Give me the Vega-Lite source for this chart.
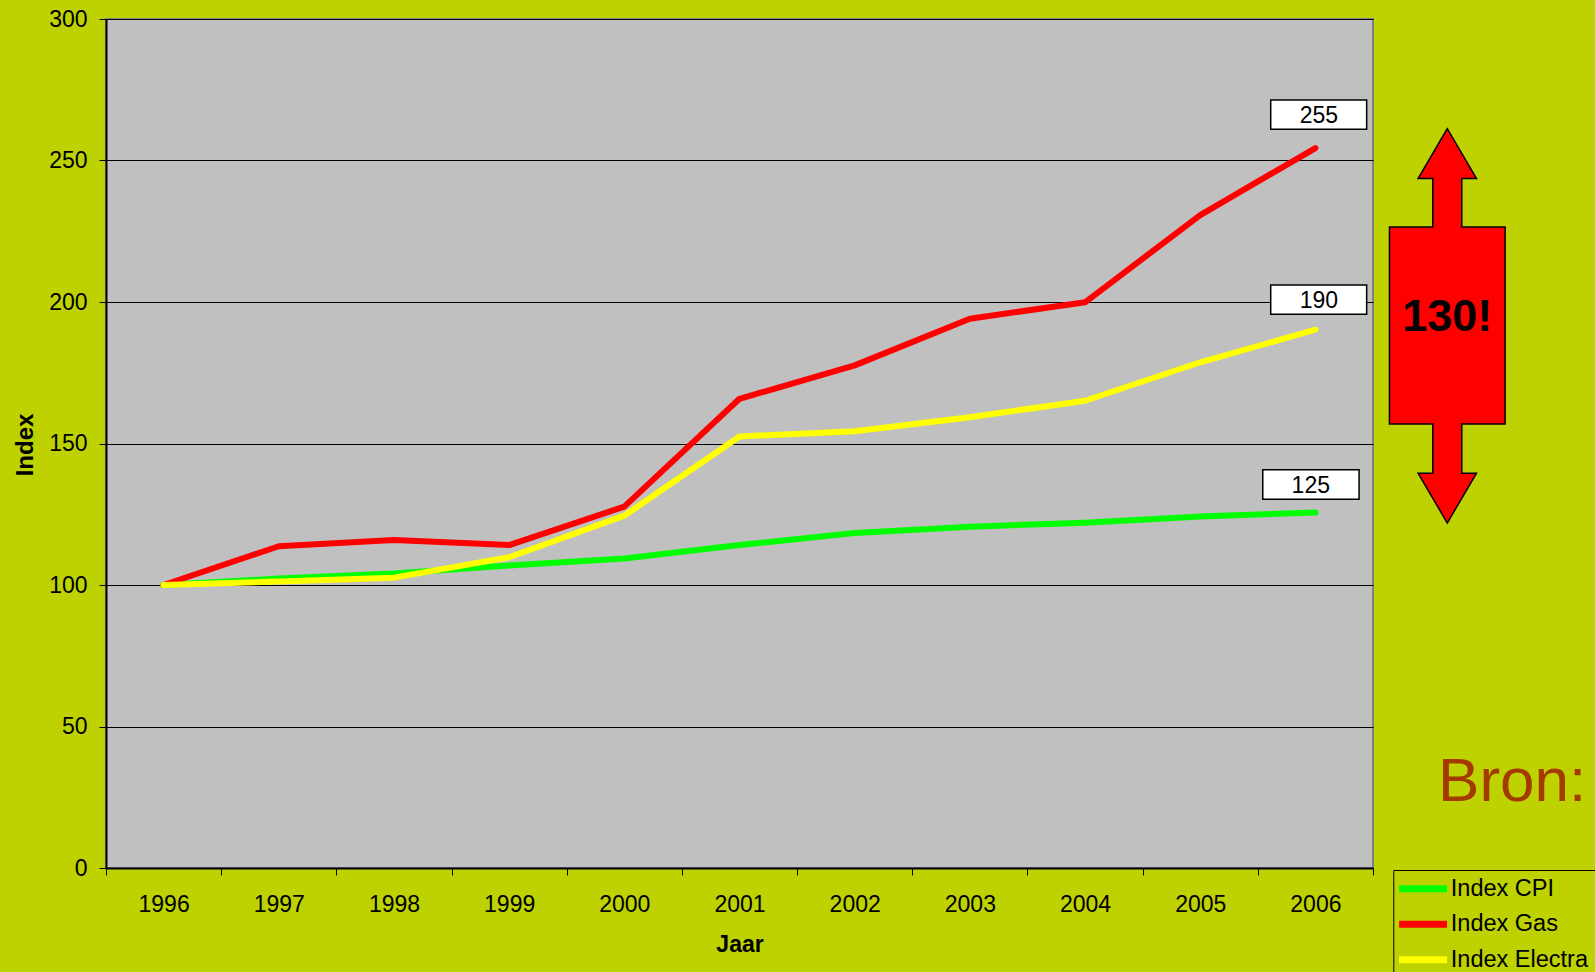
{
  "$schema": "https://vega.github.io/schema/vega-lite/v6.json",
  "width": 1267,
  "height": 849,
  "autosize": {"type": "none"},
  "padding": {"left": 106, "top": 19, "right": 222, "bottom": 104},
  "background": "#BDD200",
  "config": {
    "font": "Liberation Sans",
    "view": {"fill": "#C0C0C0", "stroke": "#808080", "strokeWidth": 2}
  },
  "datasets": {
    "series": [
      {"Jaar": "1996", "Reeks": "Index CPI", "Index": 100},
      {"Jaar": "1997", "Reeks": "Index CPI", "Index": 102.3},
      {"Jaar": "1998", "Reeks": "Index CPI", "Index": 104.1},
      {"Jaar": "1999", "Reeks": "Index CPI", "Index": 106.9},
      {"Jaar": "2000", "Reeks": "Index CPI", "Index": 109.4},
      {"Jaar": "2001", "Reeks": "Index CPI", "Index": 114.1},
      {"Jaar": "2002", "Reeks": "Index CPI", "Index": 118.4},
      {"Jaar": "2003", "Reeks": "Index CPI", "Index": 120.6},
      {"Jaar": "2004", "Reeks": "Index CPI", "Index": 122.0},
      {"Jaar": "2005", "Reeks": "Index CPI", "Index": 124.2},
      {"Jaar": "2006", "Reeks": "Index CPI", "Index": 125.6},
      {"Jaar": "1996", "Reeks": "Index Gas", "Index": 100},
      {"Jaar": "1997", "Reeks": "Index Gas", "Index": 113.7},
      {"Jaar": "1998", "Reeks": "Index Gas", "Index": 115.9},
      {"Jaar": "1999", "Reeks": "Index Gas", "Index": 114.1},
      {"Jaar": "2000", "Reeks": "Index Gas", "Index": 127.7},
      {"Jaar": "2001", "Reeks": "Index Gas", "Index": 165.8},
      {"Jaar": "2002", "Reeks": "Index Gas", "Index": 177.6},
      {"Jaar": "2003", "Reeks": "Index Gas", "Index": 194.1},
      {"Jaar": "2004", "Reeks": "Index Gas", "Index": 199.9},
      {"Jaar": "2005", "Reeks": "Index Gas", "Index": 230.7},
      {"Jaar": "2006", "Reeks": "Index Gas", "Index": 254.4},
      {"Jaar": "1996", "Reeks": "Index Electra", "Index": 100},
      {"Jaar": "1997", "Reeks": "Index Electra", "Index": 101.2},
      {"Jaar": "1998", "Reeks": "Index Electra", "Index": 102.6},
      {"Jaar": "1999", "Reeks": "Index Electra", "Index": 109.8},
      {"Jaar": "2000", "Reeks": "Index Electra", "Index": 124.5},
      {"Jaar": "2001", "Reeks": "Index Electra", "Index": 152.5},
      {"Jaar": "2002", "Reeks": "Index Electra", "Index": 154.3},
      {"Jaar": "2003", "Reeks": "Index Electra", "Index": 159.3},
      {"Jaar": "2004", "Reeks": "Index Electra", "Index": 165.1},
      {"Jaar": "2005", "Reeks": "Index Electra", "Index": 178.7},
      {"Jaar": "2006", "Reeks": "Index Electra", "Index": 190.2}
    ],
    "labels": [
      {"label": "255", "xa": 2005.612, "xb": 2006.445, "xc": 2006.03, "ya": 261.0, "yb": 271.4, "yc": 266.2},
      {"label": "190", "xa": 2005.612, "xb": 2006.445, "xc": 2006.03, "ya": 195.7, "yb": 206.0, "yc": 200.8},
      {"label": "125", "xa": 2005.543, "xb": 2006.379, "xc": 2005.96, "ya": 130.3, "yb": 140.7, "yc": 135.5}
    ],
    "arrow": [
      {"y": 121.9, "xl": 2007.145, "xr": 2007.145},
      {"y": 139.5, "xl": 2006.8915, "xr": 2007.3985},
      {"y": 139.501, "xl": 2007.019, "xr": 2007.271},
      {"y": 156.9, "xl": 2007.019, "xr": 2007.271},
      {"y": 156.901, "xl": 2006.643, "xr": 2007.647},
      {"y": 226.5, "xl": 2006.643, "xr": 2007.647},
      {"y": 226.501, "xl": 2007.019, "xr": 2007.271},
      {"y": 243.6, "xl": 2007.019, "xr": 2007.271},
      {"y": 243.601, "xl": 2006.8915, "xr": 2007.3985},
      {"y": 261.25, "xl": 2007.145, "xr": 2007.145}
    ],
    "notes": [
      {"text": "130!", "x": 2007.145, "y": 194.8, "kind": "arrow"},
      {"text": "Bron:", "x": 2007.065, "y": 23.5, "kind": "bron"}
    ]
  },
  "layer": [
    {
      "data": {"name": "series"},
      "mark": {"type": "line", "strokeWidth": 6, "strokeCap": "round", "strokeJoin": "round"},
      "encoding": {
        "x": {
          "field": "Jaar",
          "type": "ordinal",
          "bandPosition": 0.5,
          "scale": {"type": "band", "paddingInner": 0, "paddingOuter": 0},
          "axis": {
            "title": "Jaar",
            "titleFont": "Liberation Sans",
            "titleFontSize": 23,
            "titleFontWeight": "bold",
            "titleColor": "#000000",
            "titleBaseline": "alphabetic",
            "titleY": 83.4,
            "labelFontSize": 23,
            "labelColor": "#000000",
            "labelAngle": 0,
            "labelBaseline": "alphabetic",
            "labelPadding": 36,
            "tickBand": "extent",
            "tickSize": 7,
            "tickColor": "#000000",
            "tickWidth": 1,
            "domainColor": "#000000",
            "domainWidth": 2,
            "grid": false
          }
        },
        "y": {
          "field": "Index",
          "type": "quantitative",
          "scale": {"domain": [0, 300], "nice": false},
          "axis": {
            "title": "Index",
            "titleFontSize": 24,
            "titleFontWeight": "bold",
            "titleColor": "#000000",
            "titleBaseline": "alphabetic",
            "titleX": -74,
            "titleY": 425.5,
            "titleAngle": -90,
            "titleAlign": "center",
            "values": [0, 50, 100, 150, 200, 250, 300],
            "labelFontSize": 23,
            "labelColor": "#000000",
            "labelPadding": 12,
            "tickSize": 7,
            "tickColor": "#000000",
            "tickWidth": 1,
            "domainColor": "#000000",
            "domainWidth": 2,
            "grid": true,
            "gridColor": "#000000",
            "gridWidth": 1,
            "gridOpacity": 1
          }
        },
        "color": {
          "field": "Reeks",
          "type": "nominal",
          "scale": {
            "domain": ["Index CPI", "Index Gas", "Index Electra"],
            "range": ["#00FF00", "#FF0000", "#FFFF00"]
          },
          "legend": {
            "title": null,
            "orient": "none",
            "legendX": 1287.3,
            "legendY": 851,
            "padding": 7,
            "strokeColor": "#000000",
            "symbolType": "M-4,0H4",
            "symbolSize": 144,
            "symbolStrokeWidth": 7,
            "symbolOffset": 11,
            "labelOffset": 16,
            "labelFontSize": 23.5,
            "labelColor": "#000000",
            "rowPadding": 6.5
          }
        }
      }
    },
    {
      "layer": [
        {
          "data": {"name": "arrow"},
          "mark": {"type": "area", "orient": "horizontal", "color": "#FF0000", "stroke": "#000000", "strokeWidth": 1.5, "interpolate": "linear"},
          "encoding": {
            "y": {"field": "y", "type": "quantitative"},
            "x": {"field": "xl", "type": "quantitative"},
            "x2": {"field": "xr"}
          }
        },
        {
          "data": {"name": "labels"},
          "mark": {"type": "rect", "fill": "#FFFFFF", "stroke": "#000000", "strokeWidth": 1.5},
          "encoding": {
            "x": {"field": "xa", "type": "quantitative"},
            "x2": {"field": "xb"},
            "y": {"field": "ya", "type": "quantitative"},
            "y2": {"field": "yb"}
          }
        },
        {
          "data": {"name": "labels"},
          "mark": {"type": "text", "fontSize": 23, "color": "#000000", "align": "center", "baseline": "middle", "dy": 1},
          "encoding": {
            "x": {"field": "xc", "type": "quantitative"},
            "y": {"field": "yc", "type": "quantitative"},
            "text": {"field": "label"}
          }
        },
        {
          "data": {"name": "notes"},
          "transform": [{"filter": "datum.kind == 'arrow'"}],
          "mark": {"type": "text", "fontSize": 45, "fontWeight": "bold", "color": "#000000", "align": "center", "baseline": "middle"},
          "encoding": {
            "x": {"field": "x", "type": "quantitative"},
            "y": {"field": "y", "type": "quantitative"},
            "text": {"field": "text"}
          }
        },
        {
          "data": {"name": "notes"},
          "transform": [{"filter": "datum.kind == 'bron'"}],
          "mark": {"type": "text", "fontSize": 62, "color": "#A33A00", "align": "left", "baseline": "alphabetic"},
          "encoding": {
            "x": {"field": "x", "type": "quantitative"},
            "y": {"field": "y", "type": "quantitative"},
            "text": {"field": "text"}
          }
        }
      ],
      "encoding": {
        "x": {"scale": {"domain": [1995.5, 2006.5], "nice": false, "zero": false}, "axis": null},
        "y": {"scale": {"domain": [0, 300], "nice": false, "zero": false}, "axis": null}
      }
    }
  ],
  "resolve": {"scale": {"x": "independent", "y": "independent"}}
}
